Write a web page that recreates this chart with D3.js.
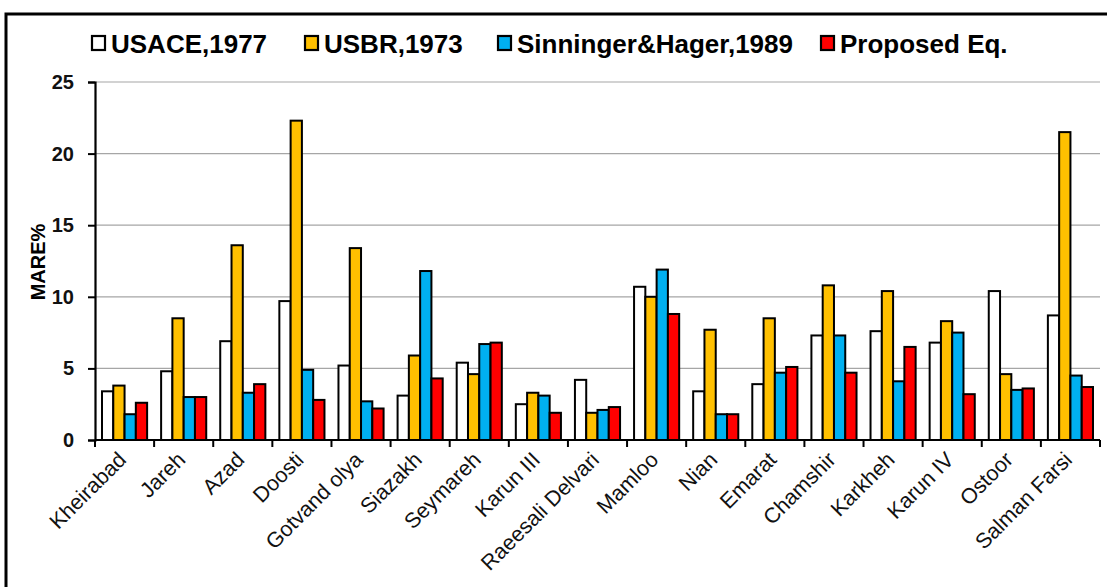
<!DOCTYPE html>
<html>
<head>
<meta charset="utf-8">
<script src="https://cdn.jsdelivr.net/npm/d3@7"></script>
<style>
	body { margin: 0; background: #fff; }
	svg { display: block; font-family: Arial, "Liberation Sans", sans-serif; }
</style>
</head>
<body>
<svg id="chart"></svg>
<script>
const WIDTH = 1107;
const HEIGHT = 587;

const dams = ['Kheirabad', 'Jareh', 'Azad', 'Doosti', 'Gotvand olya', 'Siazakh', 'Seymareh', 'Karun III',
	'Raeesali Delvari', 'Mamloo', 'Nian', 'Emarat', 'Chamshir', 'Karkheh', 'Karun IV', 'Ostoor', 'Salman Farsi'];
const seriesNames = ['USACE,1977', 'USBR,1973', 'Sinninger&Hager,1989', 'Proposed Eq.'];
const usace = [3.4, 4.8, 6.9, 9.7, 5.2, 3.1, 5.4, 2.5, 4.2, 10.7, 3.4, 3.9, 7.3, 7.6, 6.8, 10.4, 8.7];
const usbr = [3.8, 8.5, 13.6, 22.3, 13.4, 5.9, 4.6, 3.3, 1.9, 10.0, 7.7, 8.5, 10.8, 10.4, 8.3, 4.6, 21.5];
const sinninger = [1.8, 3.0, 3.3, 4.9, 2.7, 11.8, 6.7, 3.1, 2.1, 11.9, 1.8, 4.7, 7.3, 4.1, 7.5, 3.5, 4.5];
const proposed = [2.6, 3.0, 3.9, 2.8, 2.2, 4.3, 6.8, 1.9, 2.3, 8.8, 1.8, 5.1, 4.7, 6.5, 3.2, 3.6, 3.7];
const yTicks = [0, 5, 10, 15, 20, 25];
const colors = ['#ffffff', '#ffc000', '#00b0f0', '#ff0000'];

const margin = {left: 95, right: 7, top: 82, bottom: 147};

const svg = d3.select('#chart')
	.attr('width', WIDTH)
	.attr('height', HEIGHT);

// outer frame, runs off the right and bottom edges like the source image
svg.append('rect')
	.attr('x', 6)
	.attr('y', 14)
	.attr('width', WIDTH + 10)
	.attr('height', HEIGHT + 10)
	.attr('fill', 'none')
	.attr('stroke', 'black')
	.attr('stroke-width', 3);

const x0 = d3.scaleBand()
	.domain(dams)
	.range([margin.left, WIDTH - margin.right]);
const x1 = d3.scaleBand()
	.domain(seriesNames)
	.range([7, x0.bandwidth() - 7]);
const y = d3.scaleLinear()
	.domain([0, 25])
	.range([HEIGHT - margin.bottom, margin.top]);

// gridlines
svg.append('g')
	.selectAll('line')
	.data(yTicks.filter(d => d > 0))
	.enter()
	.append('line')
	.attr('x1', margin.left)
	.attr('x2', WIDTH - margin.right)
	.attr('y1', d => y(d))
	.attr('y2', d => y(d))
	.attr('stroke', '#a6a6a6')
	.attr('stroke-width', 1.2);

const table = dams.map((name, i) => ({
	name,
	values: [usace[i], usbr[i], sinninger[i], proposed[i]]
}));

svg.append('g')
	.selectAll('g')
	.data(table)
	.enter()
	.append('g')
	.attr('transform', d => `translate(${x0(d.name)},0)`)
	.selectAll('rect')
	.data(d => d.values.map((v, k) => ({series: seriesNames[k], value: v, k})))
	.enter()
	.append('rect')
	.attr('x', d => x1(d.series))
	.attr('width', x1.bandwidth())
	.attr('y', d => y(d.value))
	.attr('height', d => y(0) - y(d.value))
	.attr('fill', d => colors[d.k])
	.attr('stroke', 'black')
	.attr('stroke-width', 2);

// y axis
const yAxis = svg.append('g')
	.attr('transform', `translate(${margin.left},0)`)
	.call(d3.axisLeft(y).tickValues(yTicks).tickSize(7).tickPadding(14));
yAxis.select('.domain').attr('stroke-width', 2.2);
yAxis.selectAll('.tick line').attr('stroke-width', 2);
yAxis.selectAll('text')
	.attr('font-size', 20)
	.attr('font-weight', 'bold')
	.attr('font-family', 'Arial, "Liberation Sans", sans-serif')
	.attr('fill', '#111');

svg.append('text')
	.attr('transform', `translate(45,${y(12.5) + 1}) rotate(-90)`)
	.attr('text-anchor', 'middle')
	.attr('font-size', 20)
	.attr('font-weight', 'bold')
	.text('MARE%');

// x axis: ticks sit between the groups
const xAxisG = svg.append('g');
xAxisG.append('line')
	.attr('x1', margin.left)
	.attr('x2', WIDTH - margin.right)
	.attr('y1', y(0))
	.attr('y2', y(0))
	.attr('stroke', 'black')
	.attr('stroke-width', 2.2);
xAxisG.selectAll('.sep')
	.data(dams.concat(['end']))
	.enter()
	.append('line')
	.attr('x1', (d, i) => i < dams.length ? x0(d) : x0.range()[1])
	.attr('x2', (d, i) => i < dams.length ? x0(d) : x0.range()[1])
	.attr('y1', y(0))
	.attr('y2', y(0) + 7)
	.attr('stroke', 'black')
	.attr('stroke-width', 2);

xAxisG.selectAll('.lbl')
	.data(dams)
	.enter()
	.append('text')
	.attr('transform', d => `translate(${x0(d) + x0.bandwidth() / 2 + 3},${y(0) + 21}) rotate(-45)`)
	.attr('text-anchor', 'end')
	.attr('font-size', 21.5)
	.attr('fill', '#111')
	.text(d => d);

// legend
const legendX = [91, 304, 497, 820];
const legend = svg.append('g');
seriesNames.forEach((name, i) => {
	legend.append('rect')
		.attr('x', legendX[i] + 1)
		.attr('y', 36)
		.attr('width', 13)
		.attr('height', 14)
		.attr('fill', colors[i])
		.attr('stroke', 'black')
		.attr('stroke-width', 2.2);
	legend.append('text')
		.attr('x', legendX[i] + 20)
		.attr('y', 53)
		.attr('font-size', 26)
		.attr('font-weight', 'bold')
		.text(name);
});
</script>
</body>
</html>
